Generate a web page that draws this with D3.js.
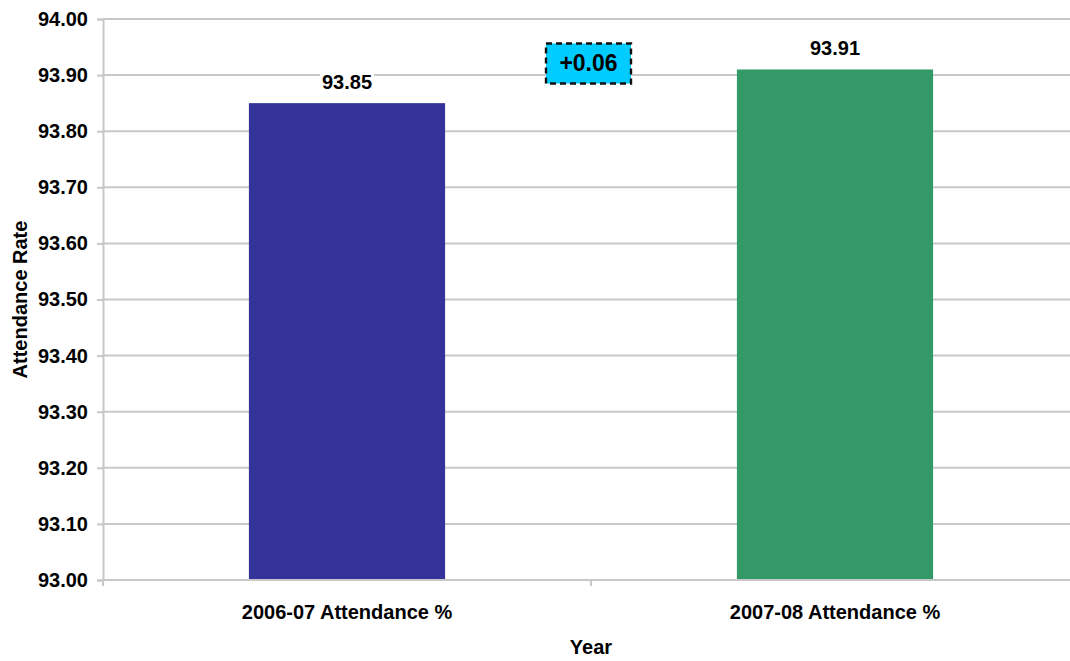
<!DOCTYPE html>
<html>
<head>
<meta charset="utf-8">
<script src="https://cdn.jsdelivr.net/npm/d3@7"></script>
<style>
  html, body { margin: 0; padding: 0; background: #fff; }
  svg { display: block; font-family: "Liberation Sans", Arial, sans-serif; font-weight: bold; }
</style>
</head>
<body>
<svg id="chart" width="1070" height="661"></svg>
<script>
// Attendance by school year
const categories = ["2006-07 Attendance %", "2007-08 Attendance %"];
const values = [93.85, 93.91];
const barColors = ["#333399", "#339966"];
const yTicks = [93.00, 93.10, 93.20, 93.30, 93.40, 93.50, 93.60, 93.70, 93.80, 93.90, 94.00];
const yDomain = [93.0, 94.0];

const svg = d3.select("#chart");
const margin = { left: 103, right: -9, top: 19, bottom: 81 };
const W = 1070, H = 661;
const x0 = margin.left, x1 = W - margin.right;
const yTop = margin.top, yBot = H - margin.bottom;

const x = d3.scaleBand().domain(categories).range([x0, x1]).paddingInner(0).paddingOuter(0);
const y = d3.scaleLinear().domain(yDomain).range([yBot, yTop]);

const grey = "#c8c8c8";

// horizontal gridlines
svg.append("g").selectAll("line").data(yTicks.slice(1)).join("line")
  .attr("x1", x0).attr("x2", x1)
  .attr("y1", d => y(d)).attr("y2", d => y(d))
  .attr("stroke", grey).attr("stroke-width", 2);

// y axis
const yAxis = svg.append("g").attr("transform", `translate(${x0},0)`)
  .call(d3.axisLeft(y).tickValues(yTicks).tickFormat(d3.format(".2f")).tickSize(6).tickPadding(9));
yAxis.select(".domain").attr("stroke", grey).attr("stroke-width", 2);
yAxis.selectAll(".tick line").attr("stroke", grey).attr("stroke-width", 2);
yAxis.selectAll(".tick text").attr("fill", "#000").attr("font-size", 20)
  .attr("font-family", "Liberation Sans, Arial, sans-serif").attr("font-weight", "bold");

// bars
const barW = x.bandwidth() * 0.402;
svg.append("g").selectAll("rect").data(values).join("rect")
  .attr("x", (d, i) => x(categories[i]) + (x.bandwidth() - barW) / 2)
  .attr("width", barW)
  .attr("y", d => y(d))
  .attr("height", d => yBot - y(d))
  .attr("fill", (d, i) => barColors[i]);

// x axis
const xAxisG = svg.append("g").attr("transform", `translate(0,${yBot})`);
xAxisG.append("line").attr("x1", x0).attr("x2", x1).attr("y1", 0).attr("y2", 0)
  .attr("stroke", grey).attr("stroke-width", 2);
xAxisG.selectAll("line.tk").data(categories.map(c => x(c))).join("line").attr("class", "tk")
  .attr("x1", d => d).attr("x2", d => d).attr("y1", 0).attr("y2", 6)
  .attr("stroke", grey).attr("stroke-width", 2);
xAxisG.selectAll("text").data(categories).join("text")
  .attr("x", d => x(d) + x.bandwidth() / 2)
  .attr("y", 39)
  .attr("text-anchor", "middle").attr("font-size", 20).attr("fill", "#000")
  .text(d => d);

// value labels
const labels = svg.append("g");
values.forEach((v, i) => {
  const cx = x(categories[i]) + x.bandwidth() / 2;
  const t = labels.append("text")
    .attr("x", cx).attr("y", y(v) - 14)
    .attr("text-anchor", "middle").attr("font-size", 20).attr("fill", "#000")
    .text(d3.format(".2f")(v));
  const bb = t.node().getBBox();
  labels.insert("rect", () => t.node())
    .attr("x", bb.x - 2).attr("y", bb.y + 2).attr("width", bb.width + 4).attr("height", bb.height - 4)
    .attr("fill", "#fff");
});

// change annotation
const delta = values[1] - values[0];
const dx = x(categories[1]);
const boxW = 85, boxH = 40;
const boxCy = y(d3.max(values)) - 6;
svg.append("rect")
  .attr("x", dx - 45).attr("y", boxCy - boxH / 2)
  .attr("width", boxW).attr("height", boxH)
  .attr("fill", "#00ccff").attr("stroke", "#111").attr("stroke-width", 2.4)
  .attr("stroke-dasharray", "6,4");
svg.append("text")
  .attr("x", dx - 45 + boxW / 2).attr("y", boxCy + 8)
  .attr("text-anchor", "middle").attr("font-size", 23).attr("fill", "#000")
  .text((delta >= 0 ? "+" : "") + d3.format(".2f")(delta));

// axis titles
svg.append("text")
  .attr("x", x(categories[1])).attr("y", 654)
  .attr("text-anchor", "middle").attr("font-size", 20).attr("fill", "#000")
  .text("Year");
svg.append("text")
  .attr("transform", `translate(27,${(yTop + yBot) / 2}) rotate(-90)`)
  .attr("text-anchor", "middle").attr("font-size", 20).attr("fill", "#000")
  .text("Attendance Rate");
</script>
</body>
</html>
